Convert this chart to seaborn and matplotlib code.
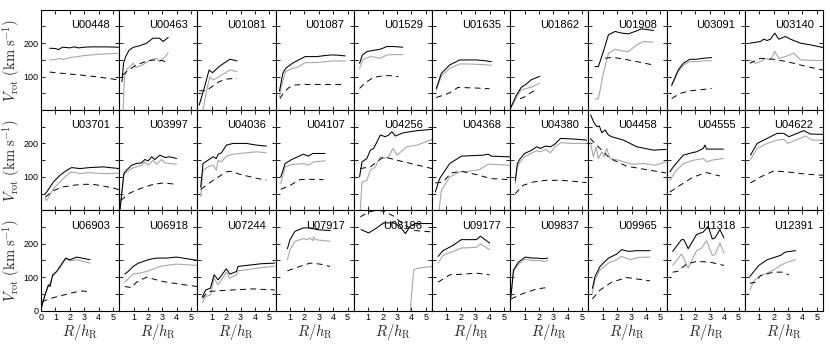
import matplotlib
matplotlib.use("Agg")
import matplotlib.pyplot as plt
import seaborn as sns
import pandas as pd
from matplotlib.ticker import FixedLocator, FuncFormatter, MultipleLocator

# ---------------- data: (R/h_R, V_rot) pairs ----------------
galaxies = ["U00448", "U00463", "U01081", "U01087", "U01529", "U01635", "U01862", "U01908", "U03091", "U03140",
            "U03701", "U03997", "U04036", "U04107", "U04256", "U04368", "U04380", "U04458", "U04555", "U04622",
            "U06903", "U06918", "U07244", "U07917", "U08196", "U09177", "U09837", "U09965", "U11318", "U12391"]

U00448_black = [(0.6,185),(1.0,184),(1.2,181),(1.5,188),(2.0,186),(2.3,189),(2.6,186),(3.0,188),(3.5,189),(4.0,189),(4.5,189),(5.43,188)]
U00448_grey = [(0.6,150),(1.0,151),(1.3,155),(1.5,151),(2.0,157),(2.5,160),(3.0,163),(3.5,165),(4.0,167),(4.5,168),(5.43,170)]
U00448_dash = [(0.6,114),(1.0,112),(2.0,108),(3.0,104),(4.0,99),(5.0,93),(5.43,90)]

U00463_black = [(0.19,85),(0.3,140),(0.45,160),(0.7,180),(1.0,188),(1.4,192),(1.9,200),(2.35,215),(2.8,215),(3.05,205),(3.4,217)]
U00463_grey = [(0.28,0),(0.32,60),(0.38,100),(0.5,120),(0.97,140),(1.2,128),(1.6,135),(2.2,150),(2.6,155),(2.82,145),(3.2,160),(3.4,172)]
U00463_dash = [(0.25,105),(0.6,118),(1.0,130),(1.5,140),(2.0,148),(2.5,150),(3.0,148),(3.4,142)]

U01081_black = [(0.12,15),(0.5,70),(0.81,120),(1.05,112),(1.5,130),(2.0,145),(2.25,152),(2.5,150),(2.75,147)]
U01081_grey = [(0.39,0),(0.6,50),(0.86,100),(1.1,90),(1.5,100),(2.0,113),(2.25,120),(2.5,118),(2.75,115)]
U01081_dash = [(0.12,58),(0.6,58),(1.0,70),(1.5,85),(2.0,93),(2.75,95)]

U01087_black = [(0.27,57),(0.5,110),(0.7,125),(1.0,135),(1.24,142),(1.6,150),(2.05,160),(2.5,160),(2.86,160),(3.4,163),(3.9,165),(4.4,164),(4.83,162)]
U01087_grey = [(0.27,40),(0.45,80),(0.7,115),(1.0,122),(1.6,130),(2.05,142),(2.6,142),(3.1,143),(3.9,147),(4.83,147)]
U01087_dash = [(0.3,35),(0.6,55),(0.94,68),(1.24,75),(2.0,77),(3.0,77),(4.0,77),(4.83,77)]

U01529_black = [(0.4,140),(0.6,165),(0.91,175),(1.3,178),(1.84,182),(2.3,190),(2.8,190),(3.4,188)]
U01529_grey = [(0.4,125),(0.6,148),(0.8,155),(1.15,160),(1.5,158),(1.84,155),(2.3,165),(2.8,166),(3.4,166)]
U01529_dash = [(0.4,65),(0.8,82),(1.38,98),(2.07,103),(2.6,103),(3.1,100)]

U01635_black = [(0.3,65),(0.65,110),(1.23,135),(1.6,143),(1.92,150),(2.5,150),(3.08,150),(3.6,148),(4.12,145)]
U01635_grey = [(0.3,60),(0.65,102),(1.23,125),(1.92,138),(2.5,138),(3.08,137),(3.6,136),(4.12,134)]
U01635_dash = [(0.3,38),(0.8,45),(1.23,52),(1.8,68),(2.5,67),(3.2,66),(4.0,64)]

U01862_black = [(0.0,4),(0.42,44),(0.76,68),(1.11,78),(1.46,91),(2.04,101)]
U01862_grey = [(0.0,4),(0.42,36),(0.76,61),(1.23,66),(1.6,71),(2.04,81)]
U01862_dash = [(0.69,34),(1.0,40),(1.46,53),(1.8,61)]

U01908_black = [(0.46,130),(0.69,130),(1.04,175),(1.39,225),(1.85,235),(2.31,230),(2.78,228),(3.24,235),(3.7,243),(4.51,238)]
U01908_grey = [(0.46,34),(0.69,34),(1.04,110),(1.39,170),(1.85,182),(2.31,177),(2.78,175),(3.36,195),(3.82,205),(4.51,203)]
U01908_dash = [(1.16,155),(1.62,158),(2.43,153),(3.36,145),(4.51,135)]

U03091_black = [(0.35,75),(0.81,120),(1.16,140),(1.62,152),(2.08,152),(2.55,155),(3.13,157)]
U03091_grey = [(0.35,72),(0.81,115),(1.16,135),(1.62,145),(2.2,145),(2.65,148),(3.13,147)]
U03091_dash = [(0.35,35),(0.93,50),(1.62,58),(2.55,62),(3.13,65)]

U03140_black = [(0.35,200),(0.63,202),(1.09,205),(1.32,212),(1.55,208),(1.78,212),(2.08,230),(2.36,212),(2.82,220),(3.17,212),(3.87,200),(4.56,195),(5.43,187)]
U03140_grey = [(0.35,150),(0.74,140),(1.09,145),(1.44,155),(1.78,150),(2.08,175),(2.36,155),(2.82,160),(3.4,170),(3.87,150),(5.43,148)]
U03140_dash = [(0.35,140),(1.09,155),(2.0,152),(2.94,145),(4.33,130),(5.43,120)]

U03701_black = [(0.28,50),(0.4,55),(0.86,85),(1.32,105),(1.78,120),(2.13,128),(2.7,125),(3.4,128),(4.33,130),(5.43,125)]
U03701_grey = [(0.28,35),(0.4,30),(0.86,65),(1.32,85),(1.78,105),(2.13,115),(2.7,110),(3.3,113),(4.33,110),(5.43,111)]
U03701_dash = [(0.3,40),(0.9,60),(1.5,70),(2.2,75),(2.9,78),(3.6,78),(4.3,73),(5.0,67),(5.43,62)]

U03997_black = [(0.05,0),(0.32,110),(0.51,120),(0.86,135),(1.2,140),(1.55,142),(1.78,152),(2.01,148),(2.25,160),(2.48,152),(2.82,165),(3.17,158),(3.52,160),(3.98,155)]
U03997_grey = [(0.05,0),(0.32,105),(0.51,115),(0.86,125),(1.2,130),(1.55,135),(1.78,145),(2.01,135),(2.36,150),(2.59,138),(2.94,152),(3.17,142),(3.98,138)]
U03997_dash = [(0.1,30),(0.74,52),(1.44,65),(2.36,78),(3.06,82),(3.98,78)]

U04036_black = [(0.23,70),(0.39,140),(0.74,150),(1.09,160),(1.32,155),(1.44,168),(1.67,172),(2.01,195),(2.48,200),(3.4,200),(4.1,195),(4.79,192)]
U04036_grey = [(0.23,42),(0.39,120),(0.74,130),(1.09,135),(1.32,120),(1.44,150),(1.67,145),(2.01,162),(2.48,168),(3.4,172),(4.1,175),(4.79,172)]
U04036_dash = [(0.23,63),(1.09,90),(2.01,115),(2.3,117),(2.94,108),(3.9,98),(4.79,90)]

U04107_black = [(0.36,100),(0.66,140),(1.12,152),(1.93,168),(2.27,162),(2.58,170),(3.44,170)]
U04107_grey = [(0.36,80),(0.66,130),(1.12,137),(1.93,140),(2.3,135),(2.63,145),(3.44,148)]
U04107_dash = [(0.36,63),(1.0,75),(1.7,92),(2.4,93),(3.32,92)]

U04256_black = [(0.4,100),(0.57,145),(0.91,155),(1.15,180),(1.38,185),(1.61,205),(1.84,225),(2.19,220),(2.42,225),(2.65,235),(2.88,222),(3.46,232),(4.39,238),(5.43,242)]
U04256_grey = [(0.45,0),(0.57,85),(0.91,90),(1.15,120),(1.5,130),(1.84,160),(2.07,155),(2.42,160),(2.72,185),(3.0,165),(3.69,190),(4.39,195),(5.43,212)]
U04256_dash = [(0.45,125),(1.15,130),(2.07,160),(3.0,150),(4.16,138),(5.43,125)]

U04368_black = [(0.23,55),(0.53,95),(1.23,140),(2.04,162),(3.54,165),(3.89,168),(4.12,162),(5.43,160)]
U04368_grey = [(0.49,0),(0.65,60),(1.23,100),(1.92,115),(2.62,117),(3.31,122),(3.89,138),(5.43,135)]
U04368_dash = [(0.23,82),(0.76,85),(1.34,112),(2.04,117),(3.08,107),(4.12,95),(5.43,92)]

U04380_black = [(0.35,90),(0.5,140),(0.7,155),(1.0,170),(1.5,180),(1.85,190),(2.1,185),(2.45,192),(2.8,190),(3.1,198),(3.5,215),(4.4,213),(5.3,210)]
U04380_grey = [(0.35,80),(0.5,130),(0.7,145),(1.0,160),(1.5,172),(1.85,178),(2.1,175),(2.45,182),(2.8,172),(3.1,190),(3.5,202),(4.4,200),(5.3,200)]
U04380_dash = [(0.35,50),(0.9,75),(1.6,85),(2.5,90),(3.5,90),(4.4,87),(5.3,83)]

U04458_black = [(0.16,285),(0.35,265),(0.58,250),(0.76,252),(0.93,232),(1.16,240),(1.39,225),(1.62,220),(2.43,210),(3.36,190),(4.51,180),(5.39,182)]
U04458_grey = [(0.12,205),(0.35,160),(0.53,190),(0.69,155),(0.93,175),(1.09,160),(1.27,185),(1.5,155),(2.08,150),(3.01,138),(3.82,140),(4.63,135),(5.39,145)]
U04458_dash = [(0.12,215),(0.46,200),(1.5,155),(2.66,132),(4.28,120),(5.39,112)]

U04555_black = [(0.23,115),(0.46,130),(1.16,165),(1.74,172),(2.08,175),(2.55,185),(2.66,195),(2.78,183),(3.94,183)]
U04555_grey = [(0.23,90),(0.58,115),(1.16,140),(1.85,150),(2.31,153),(2.55,155),(2.78,145),(3.13,150),(3.94,155)]
U04555_dash = [(0.23,55),(0.93,75),(1.85,100),(2.78,113),(3.7,103)]

U04622_black = [(0.39,165),(0.86,200),(1.55,215),(2.25,230),(2.71,230),(3.06,220),(3.63,230),(4.1,238),(4.56,228),(5.43,227)]
U04622_grey = [(0.39,152),(0.86,185),(1.55,200),(2.25,210),(2.71,212),(2.99,200),(3.63,212),(4.21,222),(4.67,210),(5.43,210)]
U04622_dash = [(0.39,82),(1.09,100),(2.01,118),(2.94,115),(4.33,108),(5.43,105)]

U06903_black = [(0.05,12),(0.28,47),(0.51,77),(0.63,72),(0.81,107),(1.09,117),(1.32,132),(1.71,157),(2.01,152),(2.48,160),(2.82,157),(3.4,152)]
U06903_grey = [(0.05,20),(0.28,47),(0.51,72),(0.81,102),(1.32,129),(1.71,154),(2.01,149),(2.48,152),(3.4,142)]
U06903_dash = [(0.05,27),(0.86,39),(1.78,49),(2.71,59),(3.4,57)]

U06918_black = [(0.39,109),(0.7,120),(0.97,132),(1.3,141),(1.67,147),(2.1,153),(2.59,157),(3.3,157),(3.98,160),(4.7,155),(5.43,150)]
U06918_grey = [(0.39,85),(0.97,110),(1.4,112),(1.9,117),(2.4,125),(2.82,132),(3.4,136),(3.98,139),(4.7,137),(5.43,135)]
U06918_dash = [(0.39,72),(0.86,69),(1.2,85),(1.9,100),(2.5,93),(3.06,87),(4.2,79),(5.43,72)]

U07244_black = [(0.35,42),(0.58,62),(0.9,67),(1.16,107),(1.44,92),(2.01,125),(2.25,109),(2.71,117),(2.82,132),(3.4,135),(4.4,140),(5.37,142)]
U07244_grey = [(0.35,25),(0.58,42),(0.9,47),(1.16,97),(1.44,77),(2.01,114),(2.25,97),(2.71,107),(2.82,119),(3.4,122),(4.4,128),(5.37,133)]
U07244_dash = [(0.35,37),(0.74,57),(1.32,59),(2.48,62),(3.86,65),(5.37,62)]

U07917_black = [(0.82,185),(1.0,212),(1.35,237),(1.93,247),(2.4,247),(2.86,242),(3.78,239)]
U07917_grey = [(0.82,152),(1.0,182),(1.35,207),(1.93,215),(2.2,212),(2.4,217),(2.58,209),(2.63,220),(2.75,212),(3.78,207)]
U07917_dash = [(0.82,119),(1.47,129),(2.4,142),(3.09,139),(3.78,132)]

U08196_black = [(0.5,242),(1.03,232),(1.6,247),(2.07,262),(2.77,262),(3.2,252),(3.58,230),(3.92,252),(4.27,260),(5.43,260)]
U08196_grey = [(3.92,0),(4.16,122),(4.5,127),(5.43,132)]
U08196_dash = [(0.45,280),(1.03,294),(1.6,300),(2.07,297),(2.77,282),(3.46,257),(4.27,239),(5.43,235)]

U09177_black = [(0.42,162),(0.76,179),(1.46,195),(2.04,212),(3.08,212),(3.36,222),(4.0,202)]
U09177_grey = [(0.42,142),(0.76,165),(1.46,177),(2.04,187),(3.08,189),(3.36,199),(4.0,182)]
U09177_dash = [(0.42,85),(1.23,107),(2.15,109),(3.08,112),(4.0,107)]

U09837_black = [(0.05,42),(0.23,122),(0.58,145),(1.04,160),(1.5,157),(1.85,157),(2.3,155),(2.6,157)]
U09837_grey = [(0.05,37),(0.23,117),(0.58,139),(1.04,154),(1.62,149),(2.0,150),(2.3,147),(2.6,149)]
U09837_dash = [(0.05,35),(0.93,52),(1.85,65),(2.55,69)]

U09965_black = [(0.28,67),(0.46,102),(0.81,132),(1.39,157),(1.97,169),(2.31,182),(2.78,177),(3.36,179),(4.28,179)]
U09965_grey = [(0.28,52),(0.46,92),(0.81,122),(1.39,142),(1.97,152),(2.31,162),(2.89,152),(3.47,159),(4.28,160)]
U09965_dash = [(0.28,35),(0.81,62),(1.62,85),(2.66,99),(4.28,89)]

U11318_black = [(0.42,177),(1.04,212),(1.2,212),(1.5,185),(2.08,227),(2.55,235),(2.89,252),(3.17,214),(3.36,217),(3.7,242),(3.98,217)]
U11318_grey = [(0.42,135),(1.04,169),(1.5,127),(2.08,179),(2.43,187),(2.78,209),(3.17,165),(3.36,167),(3.7,202),(3.98,172)]
U11318_dash = [(0.42,115),(0.75,117),(1.39,139),(2.08,147),(3.0,145),(3.98,135)]

U12391_black = [(0.35,102),(0.63,117),(0.97,135),(1.55,152),(2.48,165),(2.82,175),(3.52,179)]
U12391_grey = [(0.35,62),(0.63,89),(0.97,102),(1.55,112),(2.01,122),(2.48,135),(2.94,145),(3.52,152)]
U12391_dash = [(0.35,82),(0.74,85),(1.09,105),(2.01,115),(2.59,115),(3.06,107)]

x_ticks = [0, 1, 2, 3, 4, 5]
y_ticks = [0, 100, 200]
x_label = r"$R/h_{\rm R}$"
y_label = r"$V_{\rm rot}\ ({\rm km\ s^{-1}})$"

# ---------------- assemble a long table ----------------
rows = []
for g in galaxies:
    for comp in ("black", "grey", "dash"):
        for i, (r, v) in enumerate(globals()[f"{g}_{comp}"]):
            rows.append({"galaxy": g, "component": comp, "order": i, "R": r, "V": v})
df = pd.DataFrame(rows)

# ---------------- style ----------------
sns.set_theme(style="ticks")
plt.rcParams["font.family"] = ["Liberation Sans", "DejaVu Sans"]
plt.rcParams["mathtext.fontset"] = "cm"
plt.rcParams["axes.edgecolor"] = "black"
plt.rcParams["axes.linewidth"] = 0.8

styles = {
    "grey": dict(color="#a8a8a8", linewidth=0.8, linestyle="-"),
    "dash": dict(color="black", linewidth=0.7, linestyle=(0, (6, 4.5))),
    "black": dict(color="black", linewidth=0.75, linestyle="-"),
}

fig, axes = plt.subplots(3, 10, figsize=(8.3, 3.46), dpi=100)
fig.subplots_adjust(left=41 / 830, right=823 / 830, top=1 - 10 / 346,
                    bottom=1 - 310.7 / 346, wspace=0, hspace=0)

for idx, g in enumerate(galaxies):
    row, col = divmod(idx, 10)
    ax = axes[row, col]
    for comp in ("grey", "dash", "black"):
        sub = df[(df.galaxy == g) & (df.component == comp)].sort_values("order")
        sns.lineplot(data=sub, x="R", y="V", sort=False, estimator=None, ax=ax,
                     **styles[comp])
    ax.set_xlim(0, 5.43)
    ax.set_ylim(0, 299)
    ax.xaxis.set_major_locator(FixedLocator(x_ticks))
    ax.yaxis.set_major_locator(FixedLocator(y_ticks))
    ax.yaxis.set_minor_locator(MultipleLocator(50))
    is_corner = (row == 2 and col == 0)
    ax.xaxis.set_major_formatter(FuncFormatter(
        lambda v, p, c=is_corner: ("%d" % v) if (v != 0 or c) else ""))
    ax.yaxis.set_major_formatter(FuncFormatter(
        lambda v, p, c=is_corner: ("%d" % v) if (v != 0 or c) else ""))
    ax.tick_params(which="both", direction="in", top=True, right=True,
                   length=2.6, width=0.6, labelsize=6.5, pad=2,
                   labelbottom=(row == 2), labelleft=(col == 0),
                   colors="black")
    ax.text(0.88, 0.85, g, transform=ax.transAxes, ha="right", va="center",
            fontsize=8, color="black")
    if col == 0:
        ax.set_ylabel(y_label, fontsize=10.5)
        ax.yaxis.set_label_coords(-0.235, 0.5)
    else:
        ax.set_ylabel("")
    if row == 2:
        ax.set_xlabel(x_label, fontsize=10.5)
        ax.xaxis.set_label_coords(0.5, -0.115)
    else:
        ax.set_xlabel("")
    for s in ax.spines.values():
        s.set_visible(True)
        s.set_color("black")
        s.set_linewidth(0.8)

fig.savefig("out.png", dpi=100)
